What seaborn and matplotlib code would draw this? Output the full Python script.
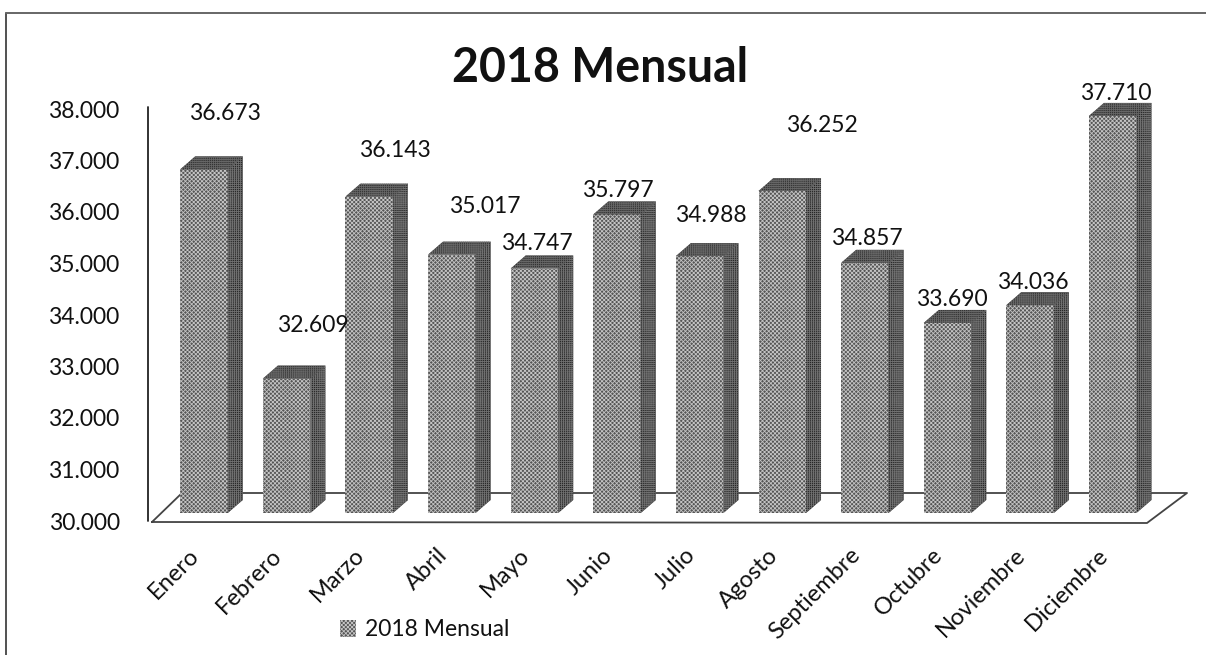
import matplotlib
matplotlib.use('Agg')
import matplotlib.pyplot as plt
from matplotlib.lines import Line2D
from matplotlib.patches import Polygon
from matplotlib.transforms import Affine2D, ScaledTranslation
import pandas as pd
import seaborn as sns

meses = ['Enero', 'Febrero', 'Marzo', 'Abril', 'Mayo', 'Junio', 'Julio', 'Agosto',
         'Septiembre', 'Octubre', 'Noviembre', 'Diciembre']
valores = [36.673, 32.609, 36.143, 35.017, 34.747, 35.797, 34.988, 36.252,
           34.857, 33.690, 34.036, 37.710]
ticks = [30, 31, 32, 33, 34, 35, 36, 37, 38]

# where excel left each data label, relative to the top of its bar (pixels)
label_dx = [21, 26, 26, 33, 2, 1, 11, 40, 2, 4, 3, 3]
label_dy = [56, 53, 46, 48, 25, 24, 41, 66, 24, 23, 23, 22]

sns.set_theme(style='white')
plt.rcParams['font.family'] = ['Lato', 'DejaVu Sans']
plt.rcParams['hatch.linewidth'] = 0.6

W, H = 1206, 655
fig = plt.figure(figsize=(W / 100, H / 100), dpi=100)
ax = fig.add_axes([162.7 / W, 1 - 513 / H, (1154 - 162.7) / W, 412 / H])
ax.patch.set_alpha(0)

df = pd.DataFrame({'mes': meses, 'valor': valores})
sns.barplot(data=df, x='mes', y='valor', color='#555555', width=0.575, saturation=1,
            label='2018 Mensual', ax=ax)
ax.set_ylim(30, 38)
ax.set_xlim(-0.5, 11.5)
ax.set_xlabel('')
ax.set_ylabel('')
sns.despine(ax=ax, left=True, bottom=True)

px = Affine2D().scale(1, -1).translate(0, H)


def linea(xs, ys, color='#222222', lw=1.3, z=-1):
    fig.add_artist(Line2D(xs, ys, transform=px, color=color, lw=lw, zorder=z))


# chart border from the scan, back wall and floor
linea([6, 6], [13, H], '#333333', 1.2)
linea([6, W], [13, 13], '#666666', 1.4)
linea([148, 148], [107, 521])
linea([152, 182, 1187, 1147, 152], [522, 493, 493, 523, 522], '#444444')

# fake the 3d look: side and top faces next to each seaborn bar
dep_x, dep_y = 15, 13
for bar, v, dx, dy in zip(ax.patches, valores, label_dx, label_dy):
    bar.set_edgecolor('#c4c4c4')
    bar.set_linewidth(0)
    bar.set_hatch('xxxxxxxx')
    x0, y0 = ax.transData.transform((bar.get_x(), 30))
    x1, y1 = ax.transData.transform((bar.get_x() + bar.get_width(), v))
    ax.add_patch(Polygon([(x1, y0), (x1 + dep_x, y0 + dep_y), (x1 + dep_x, y1 + dep_y), (x1, y1)],
                         transform=None, facecolor='#262626', edgecolor='#707070',
                         lw=0, hatch='++++++++', zorder=3))
    ax.add_patch(Polygon([(x0, y1), (x0 + dep_x, y1 + dep_y), (x1 + dep_x, y1 + dep_y), (x1, y1)],
                         transform=None, facecolor='#333333', edgecolor='#666666',
                         lw=0, hatch='++++++++', zorder=3))
    ax.annotate(f'{v:.3f}', (bar.get_x() + bar.get_width() / 2, v),
                xytext=(dx * 0.72, dy * 0.72), textcoords='offset points',
                ha='center', va='center', fontsize=16.5, color='#111111', zorder=4)

ax.set_yticks(ticks)
ax.set_yticklabels([f'{t}.000' for t in ticks], fontsize=16.5, color='#111111')
ax.tick_params(axis='y', length=0, pad=31)
ax.tick_params(axis='x', length=0, pad=28)
# labels on the y axis sit on the floor front edge, below the bars
for t in ax.get_yticklabels():
    t.set_transform(t.get_transform() + ScaledTranslation(0, -8 / 100, fig.dpi_scale_trans))
ax.set_xticks(range(12))
ax.set_xticklabels(meses, rotation=45, ha='right', va='center', rotation_mode='anchor',
                   fontsize=17, color='#111111')
for t in ax.get_xticklabels():
    t.set_transform(t.get_transform() + ScaledTranslation(-8 / 100, 0, fig.dpi_scale_trans))

fig.text(600 / W, 1 - 68 / H, '2018 Mensual', ha='center', va='center', fontsize=33.5,
         fontweight='bold', color='#111111')

ax.legend(loc='center', bbox_to_anchor=(425 / W, 1 - 630 / H), bbox_transform=fig.transFigure,
          frameon=False, fontsize=16.5, handlelength=0.7, handleheight=0.7, handletextpad=0.4,
          labelcolor='#111111')

fig.savefig('out.png', dpi=100, facecolor='white')
